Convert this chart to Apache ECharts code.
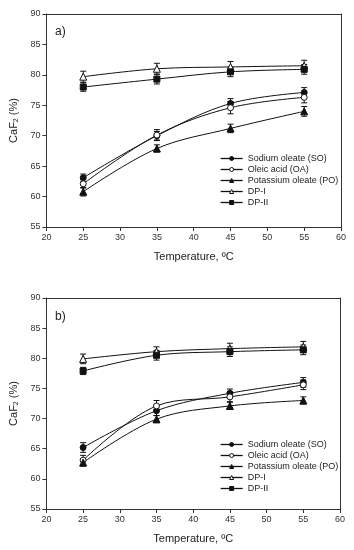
<!DOCTYPE html>
<html><head><meta charset="utf-8">
<script src="https://cdn.jsdelivr.net/npm/echarts@6/dist/echarts.min.js"></script>
<style>html,body{margin:0;padding:0;background:#fff}#c{width:354px;height:550px}</style>
</head><body><div id="c"></div>
<script>
const temps = [25, 35, 45, 55];
const seriesNames = ['Sodium oleate (SO)', 'Oleic acid (OA)', 'Potassium oleate (PO)', 'DP-I', 'DP-II'];
const symbols = ['circle', 'circle', 'triangle', 'triangle', 'rect'];
const hollow = [false, true, false, true, false];
// panel a)
const aSO = [63.1, 70.0, 75.3, 77.1];
const aOA = [62.1, 70.1, 74.6, 76.3];
const aPO = [60.8, 67.9, 71.2, 74.0];
const aDP1 = [79.7, 81.0, 81.3, 81.5];
const aDP2 = [78.0, 79.3, 80.5, 80.9];
const aSOerr = [0.6, 0.7, 0.8, 0.8];
const aOAerr = [0.7, 0.9, 1.0, 0.9];
const aPOerr = [0.7, 0.6, 0.7, 0.8];
const aDP1err = [0.9, 0.9, 0.9, 0.9];
const aDP2err = [0.7, 0.8, 0.8, 0.8];
// panel b)
const bSO = [65.2, 71.3, 74.2, 76.0];
const bOA = [63.1, 72.1, 73.6, 75.6];
const bPO = [62.7, 69.9, 72.1, 73.0];
const bDP1 = [79.9, 81.1, 81.6, 81.9];
const bDP2 = [77.9, 80.5, 81.1, 81.4];
const bSOerr = [0.8, 0.8, 0.7, 0.8];
const bOAerr = [0.8, 0.9, 0.8, 0.8];
const bPOerr = [0.6, 0.6, 0.6, 0.6];
const bDP1err = [0.8, 0.8, 0.9, 0.9];
const bDP2err = [0.6, 0.8, 0.8, 0.8];

const xTicks = {min: 20, max: 60, interval: 5};
const yTicks = {min: 55, max: 90, interval: 5};

const panels = [
  {vals: [aSO, aOA, aPO, aDP1, aDP2], errs: [aSOerr, aOAerr, aPOerr, aDP1err, aDP2err]},
  {vals: [bSO, bOA, bPO, bDP1, bDP2], errs: [bSOerr, bOAerr, bPOerr, bDP1err, bDP2err]}
];

const FONT = 'Liberation Sans, Arial, sans-serif';
const AX = '#333';
function xAxis(i){return {gridIndex:i,type:'value',min:xTicks.min,max:xTicks.max,interval:xTicks.interval,
  name:'Temperature, \u00baC',nameLocation:'middle',nameGap:24,nameTextStyle:{fontFamily:FONT,fontSize:11,color:'#222'},
  axisLine:{lineStyle:{color:AX,width:1}},axisTick:{inside:false,length:4,lineStyle:{color:AX}},
  axisLabel:{fontFamily:FONT,fontSize:9,color:'#333',margin:6},splitLine:{show:false}};}
function xTop(i){return {gridIndex:i,type:'value',position:'top',min:xTicks.min,max:xTicks.max,interval:xTicks.interval,
  axisLine:{show:true,onZero:false,lineStyle:{color:AX}},axisTick:{show:false},axisLabel:{show:false},splitLine:{show:false}};}
function yAxis(i){return {gridIndex:i,type:'value',min:yTicks.min,max:yTicks.max,interval:yTicks.interval,
  name:'CaF{sub|2} (%)',nameLocation:'middle',nameGap:26,nameRotate:90,
  nameTextStyle:{fontFamily:FONT,fontSize:11,color:'#222',rich:{sub:{fontFamily:FONT,fontSize:7,verticalAlign:'bottom',padding:[5,0,0,0],color:'#222'}}},
  axisLine:{show:true,lineStyle:{color:AX}},axisTick:{inside:false,length:4,lineStyle:{color:AX}},
  axisLabel:{fontFamily:FONT,fontSize:9,color:'#333',margin:6},splitLine:{show:false}};}
function yRight(i){return {gridIndex:i,type:'value',position:'right',min:yTicks.min,max:yTicks.max,interval:yTicks.interval,
  axisLine:{show:true,onZero:false,lineStyle:{color:AX}},axisTick:{show:false},axisLabel:{show:false},splitLine:{show:false}};}

const series = [];
panels.forEach((p, pi) => {
  p.vals.forEach((v, si) => {
    series.push({
      type:'custom', xAxisIndex:pi*2, yAxisIndex:pi*2, z:1, silent:true,
      data: temps.map((t,k)=>[t, v[k]-p.errs[si][k], v[k]+p.errs[si][k]]),
      encode:{x:0,y:[1,2]},
      renderItem:function(params, api){
        const lo = api.coord([api.value(0), api.value(1)]);
        const hi = api.coord([api.value(0), api.value(2)]);
        const w = 3;
        const st = {stroke:'#111',lineWidth:1};
        return {type:'group',children:[
          {type:'line',shape:{x1:lo[0],y1:lo[1],x2:hi[0],y2:hi[1]},style:st},
          {type:'line',shape:{x1:lo[0]-w,y1:lo[1],x2:lo[0]+w,y2:lo[1]},style:st},
          {type:'line',shape:{x1:hi[0]-w,y1:hi[1],x2:hi[0]+w,y2:hi[1]},style:st}
        ]};
      }
    });
    series.push({
      name: seriesNames[si], type:'line', xAxisIndex:pi*2, yAxisIndex:pi*2, z:3,
      data: temps.map((t,k)=>[t, v[k]]), smooth:0.35,
      symbol: symbols[si], symbolSize: symbols[si]==='triangle' ? 7 : 6, showSymbol:true,
      lineStyle:{color:'#111',width:1},
      itemStyle:{color: hollow[si]?'#fff':'#111', borderColor:'#111', borderWidth:1},
      emphasis:{disabled:true}
    });
  });
});

const legendData = seriesNames.map((n, si) => ({
  name: n,
  itemStyle: {color: hollow[si]?'#fff':'#111', borderColor:'#111', borderWidth:1},
  lineStyle: {color:'#111', width:1.3}
}));
const legendBase = {orient:'vertical',itemWidth:22,itemHeight:5,itemGap:2,data:legendData,
  textStyle:{fontFamily:FONT,fontSize:9,color:'#222',lineHeight:9},selectedMode:false};

const option = {
  animation:false,
  grid:[{left:44,top:14,width:297,height:213},{left:44,top:298,width:296,height:211}],
  xAxis:[xAxis(0),xTop(0),xAxis(1),xTop(1)],
  yAxis:[yAxis(0),yRight(0),yAxis(1),yRight(1)],
  legend:[Object.assign({left:215,top:149},legendBase),Object.assign({left:215,top:435},legendBase)],
  graphic:[
    {type:'text',left:55,top:26,style:{text:'a)',fontFamily:FONT,fontSize:12,fill:'#222'}},
    {type:'text',left:55,top:311,style:{text:'b)',fontFamily:FONT,fontSize:12,fill:'#222'}}
  ],
  series: series
};
const chart = echarts.init(document.getElementById('c'), null, {renderer:'canvas'});
chart.setOption(option);
</script></body></html>
